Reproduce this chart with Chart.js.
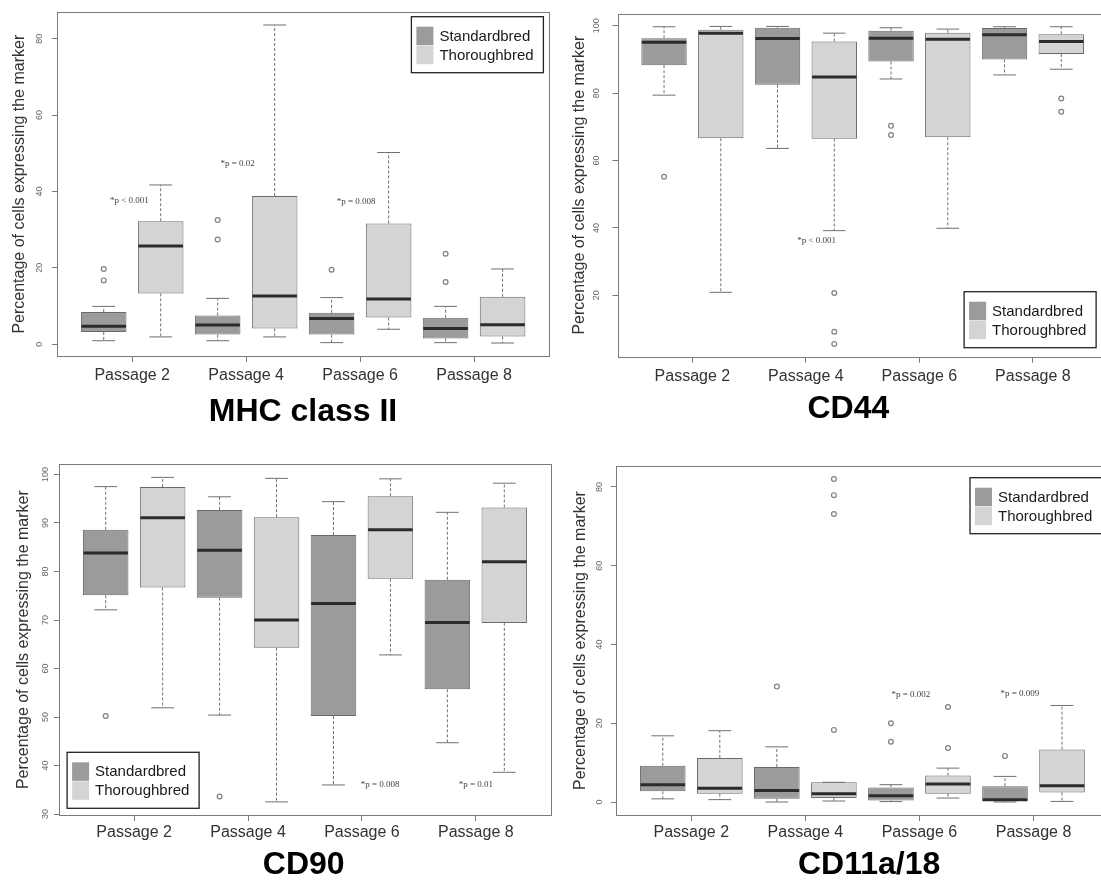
<!DOCTYPE html>
<html>
<head>
<meta charset="utf-8">
<script src="https://cdn.jsdelivr.net/npm/chart.js@4.4.1/dist/chart.umd.min.js"></script>
<style>
  html, body { margin: 0; padding: 0; background: #fff; }
  body { position: relative; width: 1101px; height: 882px; overflow: hidden; }
  canvas { position: absolute; }
</style>
</head>
<body>
<canvas id="mhc" width="555" height="440" style="left:0;top:0"></canvas>
<canvas id="cd44" width="560" height="440" style="left:555px;top:0"></canvas>
<canvas id="cd90" width="555" height="442" style="left:0;top:440px"></canvas>
<canvas id="cd11" width="560" height="442" style="left:555px;top:440px"></canvas>
<script>
const passages = ['Passage 2', 'Passage 4', 'Passage 6', 'Passage 8'];
const breeds = ['Standardbred', 'Thoroughbred'];
const yTitle = 'Percentage of cells expressing the marker';

// each entry: [lower whisker, Q1, median, Q3, upper whisker], one per passage
const mhcStandardbred = [[0.9, 3.2, 4.7, 8.4, 9.9], [0.9, 2.5, 5.0, 7.5, 12.0], [0.4, 2.5, 6.7, 8.2, 12.2], [0.4, 1.5, 4.1, 6.9, 9.9]];
const mhcThoroughbred = [[1.9, 13.3, 25.7, 32.2, 41.7], [1.9, 4.1, 12.6, 38.8, 83.6], [3.9, 7.0, 11.8, 31.6, 50.2], [0.3, 2.0, 5.1, 12.4, 19.7]];
const mhcOutStandardbred = [[19.7, 16.7], [32.5, 27.4], [19.5], [23.7, 16.3]];
const mhcOutThoroughbred = [[], [], [], []];
const mhcTicks = [0, 20, 40, 60, 80];

const cd44Standardbred = [[79.4, 88.3, 95.1, 96.3, 99.7], [63.6, 82.5, 96.2, 99.4, 99.8], [84.2, 89.4, 96.3, 98.5, 99.4], [85.4, 90.0, 97.3, 99.3, 99.7]];
const cd44Thoroughbred = [[20.9, 66.6, 97.8, 98.8, 99.8], [39.2, 66.5, 84.8, 95.3, 97.8], [39.9, 66.9, 96.0, 97.9, 99.0], [87.1, 91.6, 95.3, 97.5, 99.7]];
const cd44OutStandardbred = [[55.2], [], [70.3, 67.6], []];
const cd44OutThoroughbred = [[], [20.7, 9.2, 5.6], [], [78.4, 74.5]];
const cd44Ticks = [20, 40, 60, 80, 100];

const cd90Standardbred = [[72.1, 75.1, 83.8, 88.6, 97.5], [50.4, 74.6, 84.4, 92.7, 95.4], [36.0, 50.2, 73.4, 87.5, 94.4], [44.7, 55.7, 69.5, 78.3, 92.2]];
const cd90Thoroughbred = [[51.9, 76.7, 91.1, 97.4, 99.4], [32.5, 64.3, 70.0, 91.2, 99.2], [62.8, 78.5, 88.6, 95.5, 99.1], [38.6, 69.4, 82.0, 93.2, 98.2]];
const cd90OutStandardbred = [[50.2], [33.6], [], []];
const cd90OutThoroughbred = [[], [], [], []];
const cd90Ticks = [30, 40, 50, 60, 70, 80, 90, 100];

const cd11Standardbred = [[0.8, 2.7, 4.4, 9.2, 16.8], [0.0, 0.8, 2.9, 8.9, 14.0], [0.1, 0.4, 1.6, 3.7, 4.4], [0.0, 0.25, 0.6, 4.0, 6.5]];
const cd11Thoroughbred = [[0.6, 2.1, 3.5, 11.2, 18.1], [0.25, 1.0, 2.1, 5.0, 5.0], [1.0, 2.1, 4.6, 6.7, 8.6], [0.15, 2.4, 4.1, 13.3, 24.5]];
const cd11OutStandardbred = [[], [29.3], [20.0, 15.3], [11.7]];
const cd11OutThoroughbred = [[], [82.0, 77.9, 73.1, 18.3], [24.1, 13.7], []];
const cd11Ticks = [0, 20, 40, 60, 80];

const FONT = '"Liberation Sans", Arial, sans-serif';
const fills = ['#9b9b9b', '#d4d4d4'];

// whiskers, caps, medians, outliers, frame, legend, p-values and panel title
const boxExtras = {
  id: 'boxExtras',
  afterDatasetsDraw(chart, args, opts) {
    const ctx = chart.ctx;
    const y = chart.scales.y;
    const line = (x1, y1, x2, y2) => { ctx.beginPath(); ctx.moveTo(x1, y1); ctx.lineTo(x2, y2); ctx.stroke(); };
    chart.data.datasets.forEach((ds, di) => {
      chart.getDatasetMeta(di).data.forEach((bar, i) => {
        const {x, width} = bar.getProps(['x', 'width'], true);
        const [lo, q1, med, q3, hi] = ds.stats[i];
        const half = width / 2;
        ctx.save();
        ctx.strokeStyle = '#707070';
        ctx.lineWidth = 1;
        ctx.setLineDash([3, 2]);
        line(x, y.getPixelForValue(q3), x, y.getPixelForValue(hi));
        line(x, y.getPixelForValue(q1), x, y.getPixelForValue(lo));
        ctx.setLineDash([]);
        line(x - half / 2, y.getPixelForValue(hi), x + half / 2, y.getPixelForValue(hi));
        line(x - half / 2, y.getPixelForValue(lo), x + half / 2, y.getPixelForValue(lo));
        ctx.strokeStyle = '#2b2b2b';
        ctx.lineWidth = 3;
        line(x - half + 0.5, y.getPixelForValue(med), x + half - 0.5, y.getPixelForValue(med));
        ctx.strokeStyle = '#808080';
        ctx.lineWidth = 1.2;
        ds.outliers[i].forEach(v => {
          ctx.beginPath();
          ctx.arc(x, y.getPixelForValue(v), 2.4, 0, Math.PI * 2);
          ctx.stroke();
        });
        ctx.restore();
      });
    });
  },
  afterDraw(chart, args, opts) {
    const ctx = chart.ctx;
    const {left, top, width, height} = chart.chartArea;
    ctx.save();
    ctx.strokeStyle = '#7a7a7a';
    ctx.lineWidth = 1;
    ctx.strokeRect(Math.round(left) + 0.5, Math.round(top) + 0.5, Math.round(width), Math.round(height));

    // legend box
    const lx = opts.legendX, ly = opts.legendY;
    ctx.strokeStyle = '#222';
    ctx.lineWidth = 1.3;
    ctx.strokeRect(lx, ly, 132, 56);
    ctx.font = '15px ' + FONT;
    ctx.textAlign = 'left';
    ctx.textBaseline = 'middle';
    chart.data.datasets.forEach((ds, i) => {
      ctx.fillStyle = ds.backgroundColor;
      ctx.fillRect(lx + 5, ly + 10 + i * 19, 17, 18.5);
      ctx.fillStyle = '#1a1a1a';
      ctx.fillText(ds.label, lx + 28, ly + 20 + i * 19);
    });

    // significance notes
    ctx.font = '9px "Liberation Serif", serif';
    ctx.fillStyle = '#444';
    ctx.textAlign = 'center';
    opts.notes.forEach(n => {
      ctx.fillText(n.text, chart.scales.x.getPixelForValue(n.x), chart.scales.y.getPixelForValue(n.y));
    });

    ctx.font = 'bold 32px ' + FONT;
    ctx.fillStyle = '#000';
    ctx.fillText(opts.title, opts.titleX, opts.titleY);
    ctx.restore();
  }
};

function makePanel(p) {
  const datasets = [p.std, p.tb].map((stats, k) => ({
    label: breeds[k],
    data: stats.map((s, i) => ({x: 2 * i + 1 + k, y: [s[1], s[3]]})),
    stats: stats,
    outliers: k === 0 ? p.stdOut : p.tbOut,
    backgroundColor: fills[k],
    borderColor: '#6a6a6a',
    borderWidth: 1,
    borderSkipped: false,
    grouped: false,
    categoryPercentage: 1,
    barPercentage: 0.8
  }));

  new Chart(document.getElementById(p.id), {
    type: 'bar',
    data: {datasets},
    options: {
      responsive: false,
      animation: false,
      layout: {padding: {left: 0, top: p.padTop, right: p.padRight, bottom: p.padBottom}},
      scales: {
        x: {
          type: 'linear',
          min: 0.18,
          max: 8.82,
          offset: false,
          afterBuildTicks: axis => { axis.ticks = passages.map((_, i) => ({value: 2 * i + 1.5})); },
          afterFit: axis => { axis.height = 30; },
          ticks: {
            callback: (value, index) => passages[index],
            autoSkip: false,
            maxRotation: 0,
            padding: p.xPad,
            color: '#333',
            font: {family: FONT, size: 16}
          },
          grid: {offset: false, drawOnChartArea: false, tickLength: 6, color: '#7a7a7a'},
          border: {display: false}
        },
        y: {
          min: p.yMin,
          max: p.yMax,
          afterBuildTicks: axis => { axis.ticks = p.yTicks.map(v => ({value: v})); },
          afterFit: axis => { axis.width = p.yWidth; },
          ticks: {
            minRotation: 90,
            maxRotation: 90,
            crossAlign: 'center',
            padding: p.yPad,
            color: '#666',
            font: {family: FONT, size: 9}
          },
          grid: {drawOnChartArea: false, tickLength: 5, color: '#7a7a7a'},
          border: {display: false},
          title: {
            display: true,
            text: yTitle,
            color: '#333',
            font: {family: FONT, size: 16},
            padding: {top: p.yTitlePad, bottom: 0}
          }
        }
      },
      plugins: {
        legend: {display: false},
        tooltip: {enabled: false},
        boxExtras: {
          title: p.title, titleX: p.titleX, titleY: p.titleY,
          legendX: p.legendX, legendY: p.legendY, notes: p.notes
        }
      }
    },
    plugins: [boxExtras]
  });
}

makePanel({
  id: 'mhc', title: 'MHC class II', std: mhcStandardbred, tb: mhcThoroughbred,
  stdOut: mhcOutStandardbred, tbOut: mhcOutThoroughbred, yTicks: mhcTicks,
  yMin: -3.1, yMax: 86.9, yWidth: 57, padTop: 6, padRight: 5.7, padBottom: 54,
  yPad: 7, yTitlePad: 9.9, xPad: 3.9, titleX: 303, titleY: 412.5,
  legendX: 411.4, legendY: 16.7,
  notes: [{text: '*p < 0.001', x: 1.45, y: 37.5}, {text: '*p = 0.02', x: 3.35, y: 47.2}, {text: '*p = 0.008', x: 5.43, y: 37.4}]
});

makePanel({
  id: 'cd44', title: 'CD44', std: cd44Standardbred, tb: cd44Thoroughbred,
  stdOut: cd44OutStandardbred, tbOut: cd44OutThoroughbred, yTicks: cd44Ticks,
  yMin: 1.8, yMax: 103.6, yWidth: 62.5, padTop: 7.3, padRight: 7.2, padBottom: 53.3,
  yPad: 8.2, yTitlePad: 14.6, xPad: 3.9, titleX: 293.4, titleY: 409.5,
  legendX: 409.1, legendY: 291.7,
  notes: [{text: '*p < 0.001', x: 3.69, y: 36.3}]
});

makePanel({
  id: 'cd90', title: 'CD90', std: cd90Standardbred, tb: cd90Thoroughbred,
  stdOut: cd90OutStandardbred, tbOut: cd90OutThoroughbred, yTicks: cd90Ticks,
  yMin: 29.8, yMax: 102.1, yWidth: 59, padTop: 24.3, padRight: 4, padBottom: 37,
  yPad: 0.5, yTitlePad: 13.6, xPad: 1.6, titleX: 303.7, titleY: 425.5,
  legendX: 67.1, legendY: 312.3,
  notes: [{text: '*p = 0.008', x: 5.82, y: 36.0}, {text: '*p = 0.01', x: 7.5, y: 36.0}]
});

makePanel({
  id: 'cd11', title: 'CD11a/18', std: cd11Standardbred, tb: cd11Thoroughbred,
  stdOut: cd11OutStandardbred, tbOut: cd11OutThoroughbred, yTicks: cd11Ticks,
  yMin: -3.3, yMax: 85.3, yWidth: 61, padTop: 26, padRight: 6.2, padBottom: 37,
  yPad: 6.4, yTitlePad: 16.4, xPad: 1.6, titleX: 314.1, titleY: 425.5,
  legendX: 415, legendY: 37.7,
  notes: [{text: '*p = 0.002', x: 5.35, y: 27.2}, {text: '*p = 0.009', x: 7.26, y: 27.6}]
});
</script>
</body>
</html>
